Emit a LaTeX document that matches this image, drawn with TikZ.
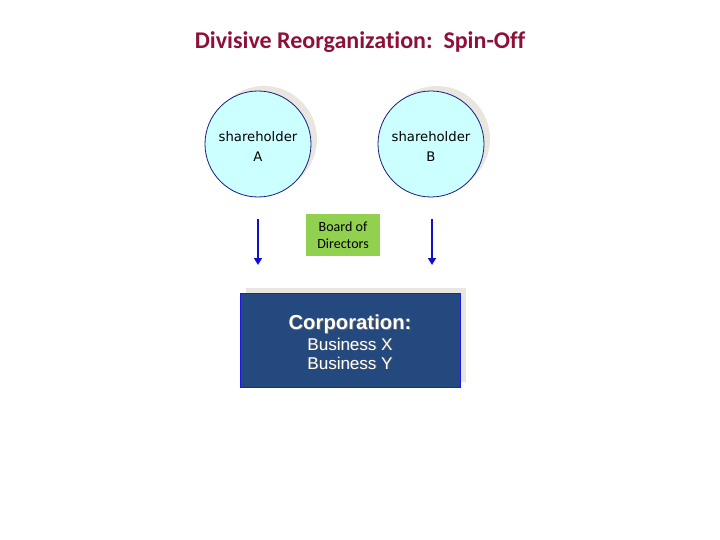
\documentclass[tikz,border=0pt]{standalone}
\usepackage{fontspec}
\setmainfont[Ligatures=NoCommon]{Carlito}
\newfontfamily\arialf{Liberation Sans}
\newfontfamily\tahomaf{DejaVu Sans}
\usetikzlibrary{arrows.meta}
\definecolor{titlered}{HTML}{8E1039}
\definecolor{circfill}{HTML}{CCFFFF}
\definecolor{circline}{HTML}{1A1A80}
\definecolor{shadowgray}{HTML}{E9E6E0}
\definecolor{boardgreen}{HTML}{92D050}
\definecolor{corpblue}{HTML}{24497E}
\definecolor{corpline}{HTML}{1A1AE6}
\definecolor{arrowblue}{HTML}{1010C8}
\tikzset{
  holder/.style={circle, minimum size=106pt, inner sep=0pt, fill=circfill, draw=circline, line width=0.8pt},
  holdertext/.style={align=center, font=\tahomaf\fontsize{13.2}{20}\selectfont},
  holdershadow/.style={circle, minimum size=106pt, inner sep=0pt, fill=shadowgray},
  board/.style={rectangle, minimum width=74pt, minimum height=42pt, inner sep=0pt, fill=boardgreen, align=center, font=\fontsize{14}{17}\selectfont},
  corp/.style={rectangle, minimum width=220pt, minimum height=94pt, inner sep=0pt, fill=corpblue, draw=corpline, line width=0.8pt},
  corpshadow/.style={rectangle, minimum width=220pt, minimum height=94pt, inner sep=0pt, fill=shadowgray},
  flow/.style={-{Triangle[width=8pt,length=7pt]}, draw=arrowblue, line width=2.5pt},
}
\begin{document}
\begin{tikzpicture}[x=1pt,y=-1pt]
\useasboundingbox (0,0) rectangle (720,540);
\node[font=\bfseries\fontsize{24}{28}\selectfont, text=titlered] (title) at (360,42) {Divisive Reorganization:\ \ Spin-Off};
% shareholders
\node[holdershadow] (shA) at (264,139) {};
\node[holder] (A) at (258,144) {};
\node[holdertext] (At) at (258,146.5) {shareholder\\A};
\node[holdershadow] (shB) at (437,139) {};
\node[holder] (B) at (431,144) {};
\node[holdertext] (Bt) at (431,146.5) {shareholder\\B};
% board
\node[board] (board) at (343,235) {Board of\\Directors};
% corporation
\node[corpshadow] (corpsh) at (356,335) {};
\node[corp] (corp) at (350,340) {};
\node[text=black!60, font=\arialf\bfseries\fontsize{20.3}{22}\selectfont] at (350.9,324.9) {Corporation:};
\node[text=white, font=\arialf\bfseries\fontsize{20.3}{22}\selectfont] (c1) at (350,324) {Corporation:};
\node[text=black!60, font=\arialf\fontsize{17}{19}\selectfont] at (350.9,344.9) {Business X};
\node[text=white, font=\arialf\fontsize{17}{19}\selectfont] (c2) at (350,344) {Business X};
\node[text=black!60, font=\arialf\fontsize{17}{19}\selectfont] at (350.9,363.9) {Business Y};
\node[text=white, font=\arialf\fontsize{17}{19}\selectfont] (c3) at (350,363) {Business Y};
% arrows
\coordinate (a1s) at (258,219);
\coordinate (a1e) at (258,265);
\coordinate (a2s) at (432,219);
\coordinate (a2e) at (432,265);
\draw[flow] (a1s) -- (a1e);
\draw[flow] (a2s) -- (a2e);
\end{tikzpicture}
\end{document}
